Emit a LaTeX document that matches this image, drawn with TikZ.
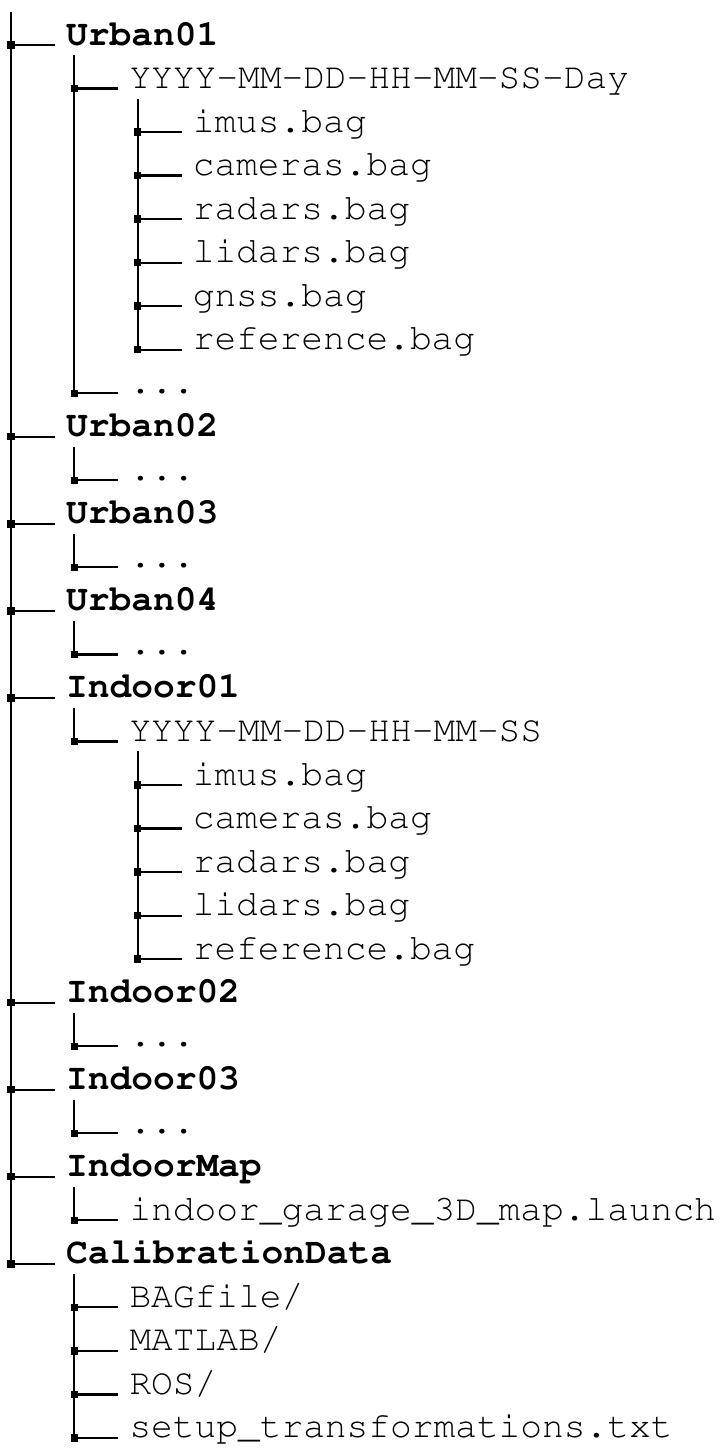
\documentclass[tikz,border=0pt]{standalone}
\usepackage[T1]{fontenc}
\renewcommand\ttdefault{pcr}
\newcommand\tdots{.{}.{}.}
\begin{document}
\begin{tikzpicture}[x=1pt,y=-1pt,
  item/.style={anchor=base west, inner sep=0pt, font=\fontsize{36.2}{36}\selectfont\ttfamily},
  lv1/.style={font=\fontsize{36.2}{36}\selectfont\ttfamily\bfseries},
  lv2/.style={}, lv3/.style={},
  wire/.style={line width=2.2pt},
  knot/.style={fill=black}]
\useasboundingbox (0,0) rectangle (720,1451);
\foreach \r/\l/\t in {
  1/1/Urban01, 2/2/YYYY-MM-DD-HH-MM-SS-Day, 3/3/imus.bag, 4/3/cameras.bag,
  5/3/radars.bag, 6/3/lidars.bag, 7/3/gnss.bag, 8/3/reference.bag, 9/2/\tdots,
  10/1/Urban02, 11/2/\tdots, 12/1/Urban03, 13/2/\tdots, 14/1/Urban04, 15/2/\tdots,
  16/1/Indoor01, 17/2/YYYY-MM-DD-HH-MM-SS, 18/3/imus.bag, 19/3/cameras.bag,
  20/3/radars.bag, 21/3/lidars.bag, 22/3/reference.bag,
  23/1/Indoor02, 24/2/\tdots, 25/1/Indoor03, 26/2/\tdots, 27/1/IndoorMap,
  28/2/{indoor\_garage\_3D\_map.launch}, 29/1/CalibrationData,
  30/2/{BAGfile/}, 31/2/{MATLAB/}, 32/2/{ROS/}, 33/2/{setup\_transformations.txt}} {
  \pgfmathsetmacro\yy{45+43.53*(\r-1)}
  \pgfmathsetmacro\bx{11+63.3*(\l-1)}
  \coordinate (b\r) at (\bx,\yy);
  \node[item, lv\l] (n\r) at (\bx+55,\yy) {\t};
  \draw[wire] (b\r) -- ([xshift=-11pt]n\r.base west);
}
\coordinate (top) at (11,12);
\draw[wire] (top) -- (b29);
\foreach \p/\c/\e in {1/2/9, 2/3/8, 10/11/11, 12/13/13, 14/15/15, 16/17/17,
  17/18/22, 23/24/24, 25/26/26, 27/28/28, 29/30/33} {
  \draw[wire] (b\c |- b\p) ++(0,10) -- (b\e);
}
\foreach \r in {1,2,3,4,5,6,7,8,9,10,11,12,13,14,15,16,17,18,19,20,21,22,23,24,25,26,27,28,29,30,31,32,33} {
  \fill[knot] (b\r) ++(-3.7,-3.7) rectangle ++(7.4,7.4);
}
\end{tikzpicture}
\end{document}
